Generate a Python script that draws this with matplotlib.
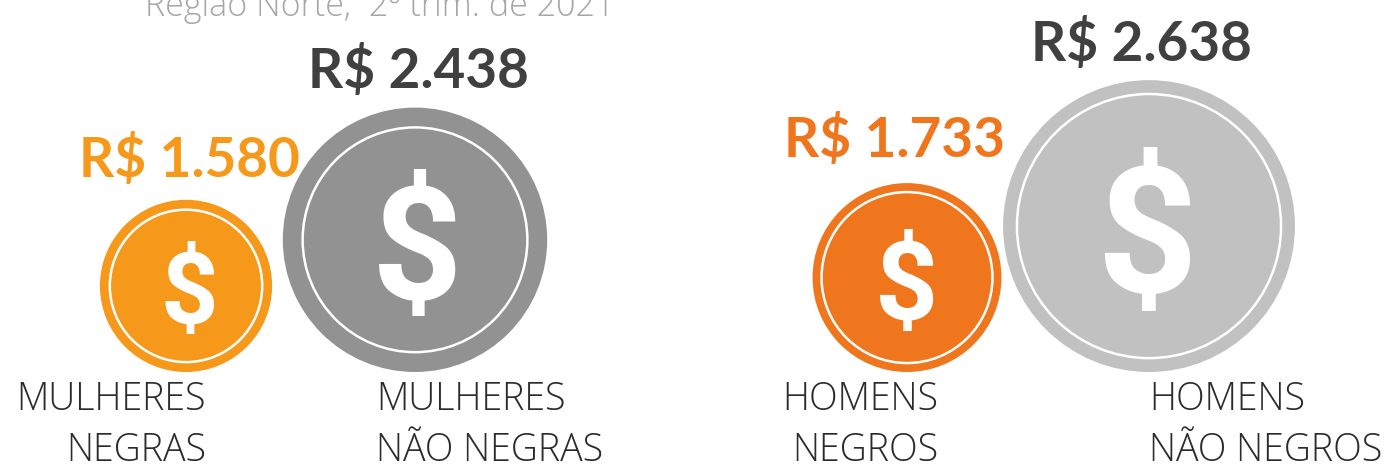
"""
Renda media por sexo e raca, Regiao Norte: moedas proporcionais ao valor.
Output: out.png
"""
import matplotlib.pyplot as plt
from matplotlib.patches import Circle

SUBTITLE = "Região Norte,  2º trim. de 2021"
VALUES = [1580, 2438, 1733, 2638]
VALUE_LABELS = ["R$ 1.580", "R$ 2.438", "R$ 1.733", "R$ 2.638"]
LINE_1 = ["MULHERES", "MULHERES", "HOMENS", "HOMENS"]
LINE_2 = ["NEGRAS", "NÃO NEGRAS", "NEGROS", "NÃO NEGROS"]

COLORS = ["#F6991B", "#929292", "#F0761D", "#C1C1C1"]
LABEL_COLORS = ["#F6991B", "#404040", "#F0761D", "#404040"]
TEXT_COLOR = "#2B2B2B"

# layout in pixels
CENTER_X = [186, 415, 907, 1149]
RADIUS_PER_VALUE = 0.0545
RADIUS_ADJUST = [1.0, 0.995, 1.0, 1.015]
BASE_Y = 372
LABEL_X = [189, 418, 895, 1141]
LABEL_BASE = [177, 88, 157, 61]
TEXT_X = [(206, "right"), (376, "left"), (938, "right"), (1149, "left")]
RING = [0.885, 0.85, 0.905, 0.905]
SIGN_SIZE = [0.84, 0.86, 0.84, 0.87]
SIGN_X = [3, 2, 0, -2]


def main():
    plt.rcParams["font.family"] = ["Lato", "DejaVu Sans"]
    fig = plt.figure(figsize=(13.85, 4.65), dpi=100)
    ax = fig.add_axes([0, 0, 1, 1])
    ax.set_xlim(0, 1385)
    ax.set_ylim(465, 0)
    ax.axis("off")

    ax.text(380, 16, SUBTITLE, ha="center", va="baseline", fontsize=24.5,
            fontweight="light", family=["Open Sans"], color="#A6A6A6")

    for i, value in enumerate(VALUES):
        r = value * RADIUS_PER_VALUE * RADIUS_ADJUST[i]
        cy = BASE_Y - r
        ax.add_patch(Circle((CENTER_X[i], cy), r, fc=COLORS[i], ec="none"))
        ax.add_patch(Circle((CENTER_X[i], cy), r * RING[i], fc="none", ec="white", lw=1.8))
        ax.text(CENTER_X[i] + SIGN_X[i], cy, "$", ha="center", va="center_baseline",
                color="white", fontsize=r * SIGN_SIZE[i], fontweight="bold",
                family=["Liberation Sans Narrow", "Roboto"])
        ax.text(LABEL_X[i], LABEL_BASE[i], VALUE_LABELS[i], ha="center",
                va="baseline", fontsize=39.5, fontweight="bold", color=LABEL_COLORS[i])
        x, align = TEXT_X[i]
        ax.text(x, 400, LINE_1[i], ha=align, va="center", fontsize=27,
                fontweight="light", family=["Open Sans"], color=TEXT_COLOR)
        ax.text(x, 451, LINE_2[i], ha=align, va="center", fontsize=27,
                fontweight="light", family=["Open Sans"], color=TEXT_COLOR)

    fig.savefig("out.png", dpi=100)
    plt.close()


if __name__ == "__main__":
    main()
